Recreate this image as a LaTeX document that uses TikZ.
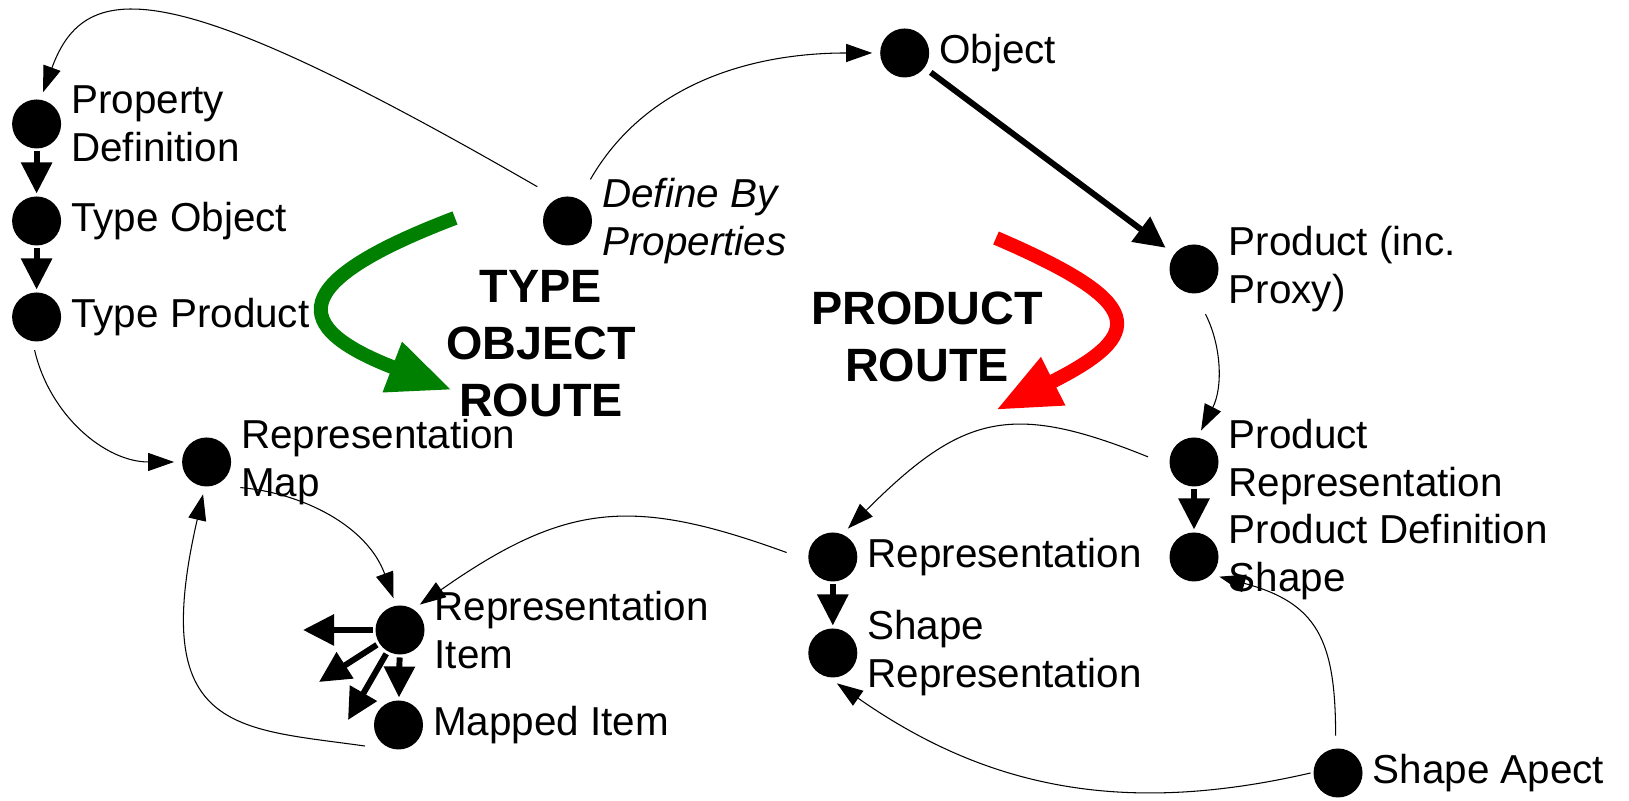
\documentclass[tikz,border=0pt]{standalone}
\usepackage{fontspec}
\setmainfont{Liberation Sans}
\usetikzlibrary{arrows.meta}

\definecolor{typegreen}{RGB}{0,128,0}
\definecolor{productred}{RGB}{255,0,0}

\begin{document}
\begin{tikzpicture}[
    font=\fontsize{11.5}{13.7}\selectfont,
    label distance=0.65mm,
    every label/.style={align=left, inner sep=0pt},
    entity/.style={circle, fill=black, inner sep=0pt, minimum size=4.9mm, outer sep=0.3mm},
    link/.style={line width=0.3pt, -{Triangle[length=2.6mm, width=1.8mm]}, shorten <=2mm, shorten >=0.5mm},
    strong link/.style={line width=1.7pt, -{Triangle[length=3.1mm, width=3mm]}},
    route/.style={line width=4pt, -{Triangle[length=6.4mm, width=5mm]}},
    route label/.style={align=center, font=\bfseries\fontsize{13.3}{16.2}\selectfont}
]

    \useasboundingbox (0,0) rectangle (16.29,8.01);

    %%% Type side (left column)
    \node (propdef)   [entity, label=right:{Property\\Definition}] at (0.366,6.77) {};
    \node (typeobj)   [entity, label=right:{Type Object}]          at (0.366,5.80) {};
    \node (typeprod)  [entity, label=right:{Type Product}]         at (0.366,4.84) {};
    \node (definedby) [entity, label=right:{\itshape Define By\\\itshape Properties}] at (5.675,5.80) {};

    %%% Product side
    \node (object)      [entity, label=right:{Object}]                     at (9.047,7.48) {};
    \node (product)     [entity, label=right:{Product (inc.\\Proxy)}]      at (11.94,5.32) {};
    \node (prodrep)     [entity, label=right:{Product\\Representation}]    at (11.94,3.39) {};
    \node (pds)         [entity, label=right:{Product Definition\\Shape}]  at (11.94,2.44) {};
    \node (repr)        [entity, label=right:{Representation}]             at (8.328,2.44) {};
    \node (shaperep)    [entity, label=right:{Shape\\Representation}]     at (8.328,1.48) {};
    \node (shapeaspect) [entity, label=right:{Shape Apect}]                at (13.38,0.28) {};

    %%% Mapping
    \node (repmap)     [entity, label=right:{Representation\\Map}]  at (2.066,3.39) {};
    \node (repitem)    [entity, label=right:{Representation\\Item}] at (4.00,1.71) {};
    \node (mappeditem) [entity, label=right:{Mapped Item}]          at (3.985,0.76) {};

    % free ends of the item arrows
    \coordinate (itemwest) at (3.03,1.71);
    \coordinate (itemsw)   at (3.19,1.19);
    \coordinate (itemssw)  at (3.48,0.81);

    %%% Route arrows
    \coordinate (typestart)    at (4.55,5.83);
    \coordinate (typeend)      at (4.52,4.11);
    \coordinate (productstart) at (9.96,5.63);
    \coordinate (productend)   at (9.96,3.91);

    \draw[route, typegreen] (typestart) .. controls (2.87,5.19) and (2.88,4.74) .. (typeend);
    \draw[route, productred] (productstart) .. controls (11.47,4.98) and (11.47,4.67) .. (productend);

    \node (typeroute)    [route label] at (5.41,4.57)  {TYPE\\OBJECT\\ROUTE};
    \node (productroute) [route label] at (9.27,4.645) {PRODUCT\\ROUTE};

    %%% Thick arrows
    \draw[strong link] (propdef) -- (typeobj);
    \draw[strong link] (typeobj) -- (typeprod);
    \draw[strong link, shorten <=0.5mm, shorten >=0.8mm] (object) -- (product);
    \draw[strong link] (prodrep) -- (pds);
    \draw[strong link] (repr) -- (shaperep);
    \draw[strong link] (repitem) -- (mappeditem);
    \draw[strong link] (repitem) -- (itemwest);
    \draw[strong link] (repitem) -- (itemsw);
    \draw[strong link] (repitem) -- (itemssw);

    %%% Thin arrows
    \draw[link] (definedby.118) to[out=150, in=70, out distance=4.4cm, in distance=1.3cm] (propdef.80);
    \draw[link] (definedby.62) to[out=60, in=180] (object);
    \draw[link] (product.-85) to[out=-63, in=63] (prodrep.80);
    \draw[link] (prodrep.185) to[out=158, in=45, looseness=1.3] (repr.65);
    \draw[link] (repr.185) to[out=160, in=35, looseness=1.2] (repitem.55);
    \draw[link] (repmap.-60) to[out=-5, in=110] (repitem.100);
    \draw[link] (mappeditem.240) to[out=172, in=-103, out distance=1.5cm, in distance=2.5cm] (repmap.-95);
    \draw[link, shorten <=0.6mm] (typeprod.-97) to[out=-77, in=180] (repmap);
    \draw[link, shorten <=1mm] (shapeaspect.95) to[out=90, in=-15, looseness=1.3] (pds.-42);
    \draw[link, shorten <=0mm] (shapeaspect.west) to[out=193, in=-35] (shaperep.south);

\end{tikzpicture}
\end{document}
